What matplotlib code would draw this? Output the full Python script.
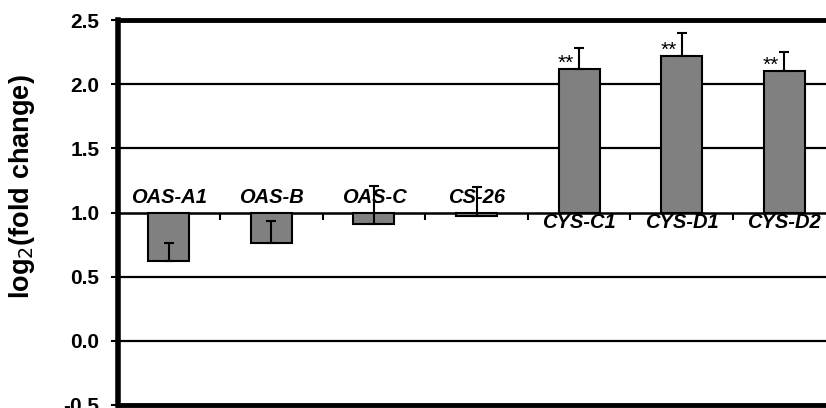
import matplotlib.pyplot as plt
import numpy as np

genes = ['OAS-A1', 'OAS-B', 'OAS-C', 'CS-26', 'CYS-C1', 'CYS-D1', 'CYS-D2']
log2_fc = [0.62, 0.76, 0.91, 0.97, 2.12, 2.22, 2.10]
err_up = [0.14, 0.17, 0.30, 0.23, 0.16, 0.18, 0.15]
signif = ['', '', '', '', '**', '**', '**']
baseline = 1.0

plt.rcParams['font.family'] = ['Liberation Sans', 'DejaVu Sans']

fig = plt.figure(figsize=(8.26, 4.08), dpi=100)
ax = fig.add_axes([117.5 / 826, 3 / 408, 718 / 826, 385 / 408])

x = np.arange(len(genes))
heights = np.array(log2_fc) - baseline
ax.bar(x, heights, bottom=baseline, width=0.4, color='#808080',
       edgecolor='black', linewidth=1.5, zorder=3)
ax.errorbar(x, log2_fc, yerr=[np.zeros(len(x)), err_up], fmt='none',
            ecolor='black', elinewidth=1.5, capsize=3.6, capthick=1.5, zorder=4)

for xi, v, s in zip(x, log2_fc, signif):
    if s:
        ax.text(xi - 0.13, v - 0.03, s, ha='center', va='bottom', fontsize=15)

# gene names sit on the opposite side of the baseline from the bar
for xi, v, g in zip(x, log2_fc, genes):
    if v < baseline:
        ax.text(xi, baseline + 0.045, g, ha='center', va='bottom',
                fontsize=14.5, fontweight='bold', fontstyle='italic')
    else:
        ax.text(xi, baseline - 0.005, g, ha='center', va='top',
                fontsize=14.5, fontweight='bold', fontstyle='italic')

for yv in [2.0, 1.5, 0.5, 0.0]:
    ax.axhline(yv, color='black', linewidth=1.6, zorder=1)
ax.axhline(-0.5, color='black', linewidth=3.5, zorder=5, clip_on=False)

ax.set_xlim(-0.5, len(genes) - 0.5)
ax.set_ylim(-0.5, 2.5)
ax.set_yticks([-0.5, 0.0, 0.5, 1.0, 1.5, 2.0, 2.5])
ax.set_yticklabels(['-0.5', '0.0', '0.5', '1.0', '1.5', '2.0', '2.5'],
                   fontsize=15, fontweight='bold')
ax.tick_params(axis='y', length=5, width=1.5, pad=8)

# category axis drawn at the baseline, ticks between categories
ax.spines['bottom'].set_position(('data', baseline))
ax.spines['bottom'].set_linewidth(1.8)
ax.set_xticks(np.arange(0.5, len(genes) - 0.5))
ax.set_xticklabels([])
ax.tick_params(axis='x', length=5, width=1.5, direction='out')

ax.spines['left'].set_linewidth(4)
ax.spines['top'].set_linewidth(3.5)
ax.spines['right'].set_visible(False)

ax.set_ylabel('log$_2$(fold change)', fontsize=19.5, fontweight='bold')
ax.yaxis.set_label_coords(-0.112, 0.566)

fig.savefig('out.png', dpi=100)
